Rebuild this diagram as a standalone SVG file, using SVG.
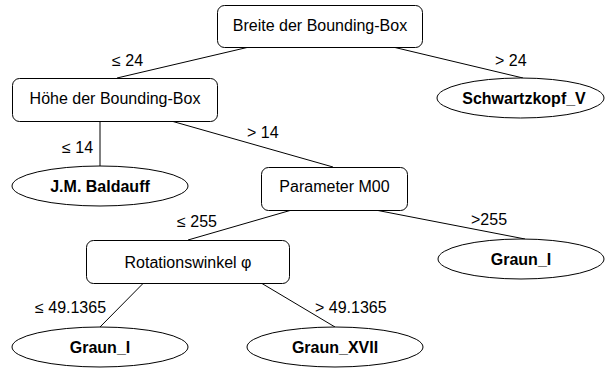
<svg xmlns="http://www.w3.org/2000/svg" width="606" height="369" viewBox="0 0 606 369">
  <style>
    .box { fill: #ffffff; stroke: #000000; stroke-width: 1; }
    .leaf { fill: #ffffff; stroke: #000000; stroke-width: 1; }
    .edge { stroke: #000000; stroke-width: 1; fill: none; }
    text { font-family: "Liberation Sans", Arial, sans-serif; font-size: 16px; fill: #000000; }
    .name { text-anchor: middle; }
    .cls { text-anchor: middle; font-weight: bold; }
  </style>
  <rect width="606" height="369" fill="#ffffff"/>

  <g id="connectors">
    <line class="edge" x1="247" y1="47.5" x2="117" y2="78"/>
    <line class="edge" x1="395" y1="47.5" x2="523" y2="78"/>
    <line class="edge" x1="100" y1="121.5" x2="100" y2="166"/>
    <line class="edge" x1="173" y1="121.5" x2="333" y2="167"/>
    <line class="edge" x1="290" y1="210.5" x2="188" y2="240"/>
    <line class="edge" x1="378" y1="210.5" x2="525" y2="239"/>
    <line class="edge" x1="143" y1="283.5" x2="100" y2="327"/>
    <line class="edge" x1="262" y1="283.5" x2="335" y2="327"/>
    <text x="112" y="66">≤ 24</text>
    <text x="495" y="66">&gt; 24</text>
    <text x="62" y="153">≤ 14</text>
    <text x="247" y="138">&gt; 14</text>
    <text x="177" y="227">≤ 255</text>
    <text x="471" y="225">&gt;255</text>
    <text x="35" y="313">≤ 49.1365</text>
    <text x="315" y="313">&gt; 49.1365</text>
  </g>

  <g id="breite">
    <rect class="box" x="217.5" y="5.5" width="205" height="42" rx="7"/>
    <text class="name" x="320" y="30.5">Breite der Bounding-Box</text>
  </g>
  <g id="hoehe">
    <rect class="box" x="12.5" y="78.5" width="205" height="43" rx="7"/>
    <text class="name" x="115" y="104">Höhe der Bounding-Box</text>
  </g>
  <g id="schwartzkopf">
    <ellipse class="leaf" cx="520.5" cy="98" rx="83.5" ry="20"/>
    <text class="cls" x="524" y="103.5">Schwartzkopf_V</text>
  </g>
  <g id="baldauff">
    <ellipse class="leaf" cx="100" cy="186" rx="88" ry="20"/>
    <text class="cls" x="100" y="192">J.M. Baldauff</text>
  </g>
  <g id="parameter">
    <rect class="box" x="261.5" y="167.5" width="146" height="43" rx="7"/>
    <text class="name" x="334.5" y="192">Parameter M00</text>
  </g>
  <g id="graun-i-right">
    <ellipse class="leaf" cx="521" cy="259" rx="83" ry="20"/>
    <text class="cls" x="521" y="265">Graun_I</text>
  </g>
  <g id="rotation">
    <rect class="box" x="86.5" y="240.5" width="203" height="43" rx="7"/>
    <text class="name" x="188" y="267.5">Rotationswinkel φ</text>
  </g>
  <g id="graun-i-left">
    <ellipse class="leaf" cx="100" cy="347" rx="88" ry="20"/>
    <text class="cls" x="100" y="353">Graun_I</text>
  </g>
  <g id="graun-xvii">
    <ellipse class="leaf" cx="335" cy="347" rx="88" ry="20"/>
    <text class="cls" x="335" y="353">Graun_XVII</text>
  </g>
</svg>
